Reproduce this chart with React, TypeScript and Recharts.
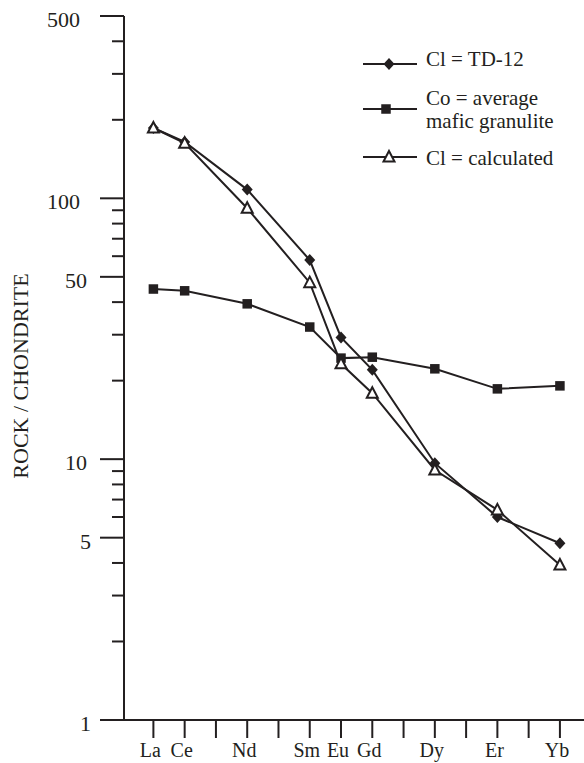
import React from 'react';
import { LineChart, Line, XAxis, YAxis } from 'recharts';

const elements = ['La', 'Ce', 'Pr', 'Nd', 'Pm', 'Sm', 'Eu', 'Gd', 'Tb', 'Dy', 'Ho', 'Er', 'Tm', 'Yb'];
const plotted = ['La', 'Ce', 'Nd', 'Sm', 'Eu', 'Gd', 'Dy', 'Er', 'Yb'];
const td12 = [186, 164.5, 108, 58, 29.3, 22, 9.65, 6.0, 4.76];
const maficGranulite = [44.9, 44.2, 39.4, 32.1, 24.4, 24.6, 22.2, 18.6, 19.1];
const calculated = [186, 162.7, 91.6, 47.5, 23.2, 17.9, 9.09, 6.39, 3.93];
const yTicks = [1, 2, 3, 4, 5, 6, 7, 8, 9, 10, 20, 30, 40, 50, 60, 70, 80, 90, 100, 200, 300, 400, 500];
const yMajor = [1, 5, 10, 50, 100, 500];
const xTicks = elements.map((_, i) => i);

const data = plotted.map((el, k) => ({
  x: elements.indexOf(el),
  td12: td12[k],
  mafic: maficGranulite[k],
  calc: calculated[k],
}));

const INK = '#231f20';
const FONT = '"Liberation Serif", "Times New Roman", serif';

const Diamond = (props: any) => {
  const { cx, cy } = props;
  if (cx == null || cy == null) return null;
  return <path d={`M${cx},${cy - 6} L${cx + 5.5},${cy} L${cx},${cy + 6} L${cx - 5.5},${cy} Z`} fill={INK} stroke="none" />;
};
const Square = (props: any) => {
  const { cx, cy } = props;
  if (cx == null || cy == null) return null;
  return <rect x={cx - 4.75} y={cy - 4.75} width={9.5} height={9.5} fill={INK} />;
};
const Triangle = (props: any) => {
  const { cx, cy } = props;
  if (cx == null || cy == null) return null;
  return <path d={`M${cx},${cy - 6} L${cx + 5.5},${cy + 4.5} L${cx - 5.5},${cy + 4.5} Z`} fill="#fff" stroke={INK} strokeWidth={2} strokeLinejoin="miter" />;
};

const YTick = (props: any) => {
  const { x, y, payload } = props;
  const v = payload.value;
  const major = yMajor.includes(v);
  const len = major ? 24 : 12;
  const digits = String(v).length;
  const right = digits === 3 ? 80 : digits === 2 ? 87 : 91;
  return (
    <g>
      <line x1={x - len} y1={y} x2={x} y2={y} stroke={INK} strokeWidth={2} />
      {major && (
        <text x={right} y={y + 11} textAnchor="end" fontFamily={FONT} fontSize={22} fill={INK}>
          {v}
        </text>
      )}
    </g>
  );
};

const XTick = (props: any) => {
  const { x, y, payload } = props;
  const name = elements[payload.value];
  const show = plotted.includes(name);
  return (
    <g>
      <line x1={x} y1={y} x2={x} y2={y + 18} stroke={INK} strokeWidth={2} />
      {show && (
        <text x={x - 3} y={757} textAnchor="middle" fontFamily={FONT} fontSize={20} fill={INK}>
          {name}
        </text>
      )}
    </g>
  );
};

const legendItems = [
  { key: 'td12', lines: ['Cl = TD-12'], y: 64, textY: 66, marker: 'diamond' },
  { key: 'mafic', lines: ['Co = average', 'mafic granulite'], y: 109, textY: 105, marker: 'square' },
  { key: 'calc', lines: ['Cl = calculated'], y: 157, textY: 165, marker: 'triangle' },
];

const LegendBox = () => (
  <svg width={584} height={200} style={{ position: 'absolute', left: 0, top: 0, pointerEvents: 'none' }}>
    {legendItems.map((it) => (
      <g key={it.key}>
        <line x1={363} y1={it.y} x2={417} y2={it.y} stroke={INK} strokeWidth={2} />
        {it.marker === 'diamond' && <Diamond cx={389} cy={it.y} />}
        {it.marker === 'square' && <Square cx={386} cy={it.y} />}
        {it.marker === 'triangle' && <Triangle cx={389} cy={it.y} />}
        {it.lines.map((t, i) => (
          <text key={i} x={426} y={it.textY + i * 23} fontFamily={FONT} fontSize={21} fill={INK}>
            {t}
          </text>
        ))}
      </g>
    ))}
  </svg>
);

export default function App() {
  return (
    <div style={{ position: 'absolute', left: 0, top: 0, width: 584, height: 763, background: '#fff' }}>
      <LineChart width={584} height={763} data={data} margin={{ top: 16, right: 0, bottom: 0, left: 0 }}>
        <XAxis
          xAxisId="top"
          orientation="top"
          type="number"
          dataKey="x"
          domain={[-0.94, 13.77]}
          allowDataOverflow
          height={0}
          tick={false}
          tickLine={false}
          axisLine={{ stroke: INK, strokeWidth: 2 }}
        />
        <XAxis
          dataKey="x"
          type="number"
          domain={[-0.94, 13.77]}
          allowDataOverflow
          ticks={xTicks}
          interval={0}
          height={43}
          tickSize={0}
          tickMargin={0}
          tick={<XTick />}
          axisLine={{ stroke: INK, strokeWidth: 2 }}
        />
        <YAxis
          scale="log"
          type="number"
          domain={[1, 500]}
          allowDataOverflow
          ticks={yTicks}
          interval={0}
          width={124}
          tickSize={0}
          tickMargin={0}
          tick={<YTick />}
          axisLine={{ stroke: INK, strokeWidth: 2 }}
          label={{
            value: 'ROCK / CHONDRITE',
            angle: -90,
            position: 'insideLeft',
            offset: 0,
            style: { fontFamily: FONT, fontSize: 22, fill: INK, textAnchor: 'middle' },
            dx: 20,
            dy: 8,
          }}
        />
        <Line dataKey="td12" name="Cl = TD-12" stroke={INK} strokeWidth={2} dot={<Diamond />} activeDot={false} isAnimationActive={false} />
        <Line dataKey="mafic" name="Co = average mafic granulite" stroke={INK} strokeWidth={2} dot={<Square />} activeDot={false} isAnimationActive={false} />
        <Line dataKey="calc" name="Cl = calculated" stroke={INK} strokeWidth={2} dot={<Triangle />} activeDot={false} isAnimationActive={false} />
      </LineChart>
      <LegendBox />
    </div>
  );
}
